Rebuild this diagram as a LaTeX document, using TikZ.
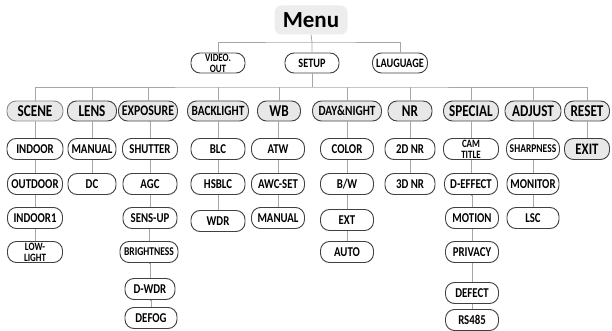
\documentclass[tikz,border=0pt]{standalone}
\usepackage{fontspec}
\setmainfont{Carlito}[FakeStretch=0.8]
\newfontfamily\titlefont{Carlito}
\usetikzlibrary{positioning}

\begin{document}
\begin{tikzpicture}[x=1pt, y=-1pt,
    link/.style={draw=black!35, line width=0.8pt},
    box/.style={draw=black!75, line width=0.9pt, rounded corners=9pt, fill=white,
      inner sep=0pt, align=center, minimum height=21pt, minimum width=54pt,
      font=\bfseries\fontsize{13.5}{10}\selectfont},
    head/.style={box, fill=black!9, minimum height=20pt,
      font=\bfseries\fontsize{16.5}{16.5}\selectfont},
    fs/.style={font=\bfseries\fontsize{#1}{10}\selectfont},
    twoline/.style={font=\bfseries\fontsize{11.2}{11.2}\selectfont},
    wd/.style={minimum width=#1pt}
  ]
  \useasboundingbox (0,0) rectangle (612,331);

  % title and first level
  \node[fill=black!7, rounded corners=7pt, minimum width=73pt, minimum height=29pt,
    inner sep=0pt, font=\titlefont\bfseries\fontsize{23}{23}\selectfont] (menu) at (311,20) {Menu};
  \node[box, twoline, minimum height=20pt] (video) at (218,63) {VIDEO.\\OUT};
  \node[box, fs=12.8, minimum height=20pt] (setup) at (312,63) {SETUP};
  \node[box, fs=12.8, minimum height=20pt, wd=55] (lang) at (400,63) {LAUGUAGE};

  % setup menu
  \node[head, wd=56, draw=black!45] (scene) at (35,111) {SCENE};
  \node[head, wd=49] (lens) at (92,111) {LENS};
  \node[head, wd=59, fs=14.7] (expo) at (148,111) {EXPOSURE};
  \node[head, wd=61, fs=14.1] (back) at (218,111) {BACKLIGHT};
  \node[head, wd=43] (wb) at (279,111) {WB};
  \node[head, wd=69, fs=14.1] (day) at (347,111) {DAY\&NIGHT};
  \node[head, wd=44] (nr) at (410,111) {NR};
  \node[head, wd=55] (spec) at (471,111) {SPECIAL};
  \node[head, wd=56] (adj) at (533,111) {ADJUST};
  \node[head, wd=45] (reset) at (587,111) {RESET};

  % SCENE
  \node[box, wd=56] (indoor) at (35,149) {INDOOR};
  \node[box, wd=55] (outdoor) at (35,184) {OUTDOOR};
  \node[box, wd=55] (indoor1) at (35,218) {INDOOR1};
  \node[box, wd=55, twoline] (low) at (35,252) {LOW-\\LIGHT};
  % LENS
  \node[box, wd=48] (manual) at (92,149) {MANUAL};
  \node[box, wd=48] (dc) at (92,184) {DC};
  % EXPOSURE
  \node[box, wd=55] (shutter) at (150,149) {SHUTTER};
  \node[box, wd=54] (agc) at (150,184) {AGC};
  \node[box, wd=54] (sens) at (150,218) {SENS-UP};
  \node[box, wd=58, fs=11.9] (bright) at (149,252) {BRIGHTNESS};
  \node[box, wd=50] (dwdr) at (150,289) {D-WDR};
  \node[box, wd=52] (defog) at (151,318) {DEFOG};
  % BACKLIGHT
  \node[box, wd=54] (blc) at (218,149) {BLC};
  \node[box, wd=54] (hsblc) at (218,184) {HSBLC};
  \node[box, wd=54] (wdr) at (218,221) {WDR};
  % WB
  \node[box, wd=53] (atw) at (278,149) {ATW};
  \node[box, wd=53] (awc) at (278,184) {AWC-SET};
  \node[box, wd=53] (wbman) at (278,218) {MANUAL};
  % DAY&NIGHT
  \node[box, wd=53] (color) at (347,149) {COLOR};
  \node[box, wd=53] (bw) at (347,184) {B/W};
  \node[box, wd=53] (ext) at (347,220) {EXT};
  \node[box, wd=53] (auto) at (347,252) {AUTO};
  % NR
  \node[box, wd=50] (nr2) at (410,149) {2D NR};
  \node[box, wd=50] (nr3) at (410,184) {3D NR};
  % SPECIAL
  \node[box, wd=55, twoline] (cam) at (471,149) {CAM\\TITLE};
  \node[box, wd=53] (deff) at (471,184) {D-EFFECT};
  \node[box, wd=53] (motion) at (472,218) {MOTION};
  \node[box, wd=53] (priv) at (472,252) {PRIVACY};
  \node[box, wd=53] (defect) at (472,293) {DEFECT};
  \node[box, wd=53] (rs) at (472,320) {RS485};
  % ADJUST
  \node[box, wd=53, fs=11.9] (sharp) at (533,149) {SHARPNESS};
  \node[box, wd=52] (monitor) at (533,184) {MONITOR};
  \node[box, wd=52] (lsc) at (533,218) {LSC};
  % RESET
  \node[head, wd=45, fs=16, minimum height=21pt] (exit) at (587,149) {EXIT};

  % connectors
  \coordinate (bus1) at (312,42);
  \coordinate (bus2) at (312,87);
  \draw[link] (menu.south) -- (bus1) -- (setup.north);
  \draw[link] (video.north) |- (bus1) -| (lang.north);
  \draw[link] (setup.south) -- (bus2);
  \draw[link] (scene.north) |- (bus2) -| (reset.north);
  \foreach \n in {lens, expo, back, wb, day, nr, spec, adj}
    \draw[link] (\n.north) -- (\n.north |- bus2);
  \foreach \a/\b in {scene/indoor, indoor/outdoor, outdoor/indoor1, indoor1/low,
      lens/manual, manual/dc,
      expo/shutter, shutter/agc, agc/sens, sens/bright, bright/dwdr, dwdr/defog,
      back/blc, blc/hsblc, hsblc/wdr,
      wb/atw, atw/awc, awc/wbman,
      day/color, color/bw, bw/ext, ext/auto,
      nr/nr2, nr2/nr3,
      spec/cam, cam/deff, deff/motion, motion/priv, priv/defect, defect/rs,
      adj/sharp, sharp/monitor, monitor/lsc,
      reset/exit}
    \draw[link] (\a.south) -- (\b.north |- \a.south) -- (\b.north);
\end{tikzpicture}
\end{document}
